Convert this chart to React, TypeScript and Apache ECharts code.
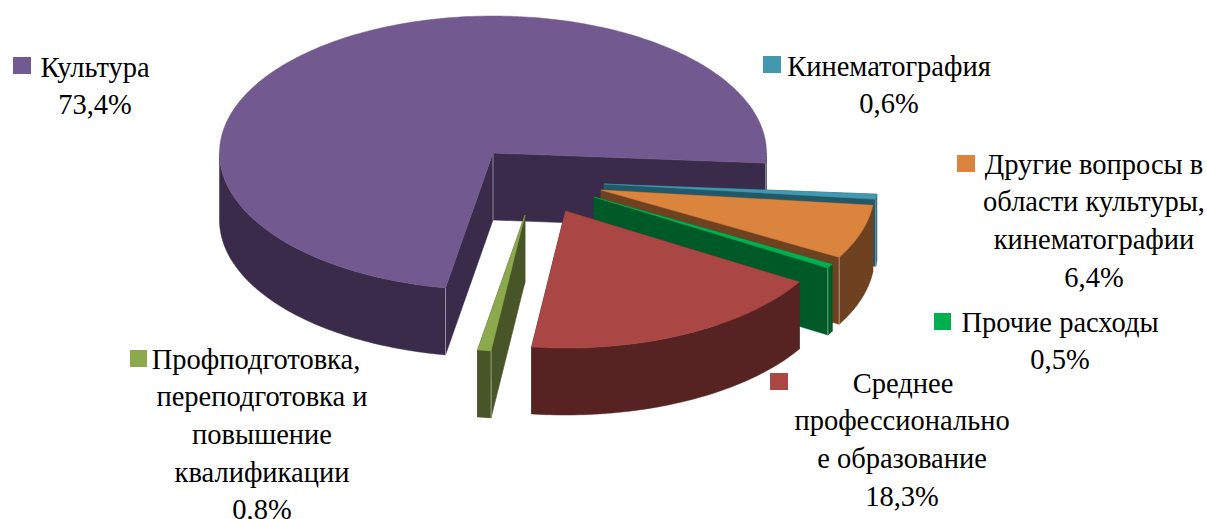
import React, { useEffect, useRef } from "react";
import * as echarts from "echarts";

// ---- data ----
const categories = ["Культура", "Кинематография", "Другие вопросы в области культуры, кинематографии", "Прочие расходы", "Среднее профессиональное образование", "Профподготовка, переподготовка и повышение квалификации"];
const values = [73.4, 0.6, 6.4, 0.5, 18.3, 0.8];
const labelLines = [
  ["Культура", "73,4%"],
  ["Кинематография", "0,6%"],
  ["Другие вопросы в", "области культуры,", "кинематографии", "6,4%"],
  ["Прочие расходы", "0,5%"],
  ["Среднее", "профессионально", "е образование", "18,3%"],
  ["Профподготовка,", "переподготовка и", "повышение", "квалификации", "0,8%"],
];

// ---- styles and layout ----
const topColors = ["#72598F", "#4198AF", "#DB843D", "#00B050", "#AA4644", "#8DA94E"];
const sideColors = ["#3B2B4B", "#215968", "#6E4220", "#005A28", "#562322", "#475527"];
const apexes: number[][] = [[493, 153], [604, 184], [601, 190], [594, 197], [565.5, 211], [525, 215]];
const RX = 273.5, RY = 137, DEPTH = 67;
const START_T = 100;
const FONT = "'Liberation Serif', 'Times New Roman', serif";
const FONT_SIZE = 28.5;
const markers: number[][] = [[13, 57, 18, 17], [763, 56, 18, 17], [957, 155, 18, 17], [934, 313, 17, 17], [770, 373, 18, 17], [130, 350, 17, 17]];
const labelCenters: number[] = [95, 889, 1094, 1060, 902, 262];
const firstCenters: number[] = [95, 889, 1094, 1060, 903, 256];
const labelTops: number[] = [67, 66, 164, 322, 383, 359];
const labelStep = 37.7;

const total = values.reduce((a, b) => a + b, 0);

function renderItem(params: any, api: any) {
  const i = params.dataIndex;
  let before = 0;
  for (let k = 0; k < i; k++) before += values[k];
  const t1 = START_T + (before / total) * 360;
  const t2 = t1 + (api.value(0) / total) * 360;
  const [cx, cy] = apexes[i];
  const pt = (deg: number, dz = 0) => {
    const r = (deg * Math.PI) / 180;
    return [cx + RX * Math.cos(r), cy + RY * Math.sin(r) + dz];
  };
  const arc = (a: number, b: number, dz = 0) => {
    const out: number[][] = [];
    const n = Math.max(2, Math.ceil(Math.abs(b - a)));
    for (let s = 0; s <= n; s++) out.push(pt(a + ((b - a) * s) / n, dz));
    return out;
  };
  const side = sideColors[i];
  const poly = (points: number[][], fill: string, stroke?: string) => ({
    type: "polygon",
    shape: { points },
    style: { fill, stroke: stroke || fill, lineWidth: 0.5 },
  });
  const edge = "rgba(255,255,255,0.45)";
  const vline = (x: number, y: number) => ({
    type: "line",
    shape: { x1: x, y1: y, x2: x, y2: y + DEPTH },
    style: { stroke: edge, lineWidth: 1 },
  });
  const wall = (deg: number) => {
    const p = pt(deg);
    const q = pt(deg, DEPTH);
    return poly([[cx, cy], p, q, [cx, cy + DEPTH]], side);
  };
  const children: any[] = [];
  // walls, the one further back first
  const m1 = ((t1 % 360) + 360) % 360;
  const m2 = ((t2 % 360) + 360) % 360;
  if (m1 > 90 && m1 < 180 && m2 < 180 && m2 > m1) {
    children.push(wall(t2), wall(t1));
  } else {
    children.push(wall(t1), wall(t2));
  }
  // outer rim: only the part of the arc in the front half
  for (const base of [0, 360, 720]) {
    const a = Math.max(t1, base);
    const b = Math.min(t2, base + 180);
    if (b > a) children.push(poly([...arc(a, b), ...arc(b, a, DEPTH)], side));
  }
  if (t2 - t1 > 180) children.push(vline(cx, cy));
  if (m1 >= 90 && m1 <= 180) {
    const p = pt(t1);
    children.push(vline(p[0], p[1]));
  }
  if (m2 <= 90) {
    const p = pt(t2);
    children.push(vline(p[0], p[1]));
  }
  // top face
  children.push(poly([[cx, cy], ...arc(t1, t2)], topColors[i]));
  return { type: "group", children };
}

function buildGraphic() {
  const els: any[] = [];
  labelLines.forEach((lines, i) => {
    const [x, y, w, h] = markers[i];
    els.push({ type: "rect", shape: { x, y, width: w, height: h }, style: { fill: topColors[i] } });
    lines.forEach((line, j) => {
      els.push({
        type: "text",
        x: j === 0 ? firstCenters[i] : labelCenters[i],
        y: labelTops[i] + j * labelStep,
        style: { text: line, fill: "#000", font: `${FONT_SIZE}px ${FONT}`, textAlign: "center", textVerticalAlign: "middle" },
      });
    });
  });
  return els;
}

export default function App() {
  const ref = useRef<HTMLDivElement>(null);
  useEffect(() => {
    document.body.style.margin = "0";
    const chart = echarts.init(ref.current!, null, { renderer: "svg" });
    chart.setOption({
      animation: false,
      backgroundColor: "#fff",
      series: [
        {
          type: "custom",
          coordinateSystem: "none",
          renderItem,
          silent: true,
          clip: false,
          data: values.map((v, i) => ({ name: categories[i], value: [v] })),
        },
      ],
      graphic: buildGraphic(),
    });
    return () => chart.dispose();
  }, []);
  return <div ref={ref} style={{ width: 1207, height: 519 }} />;
}
